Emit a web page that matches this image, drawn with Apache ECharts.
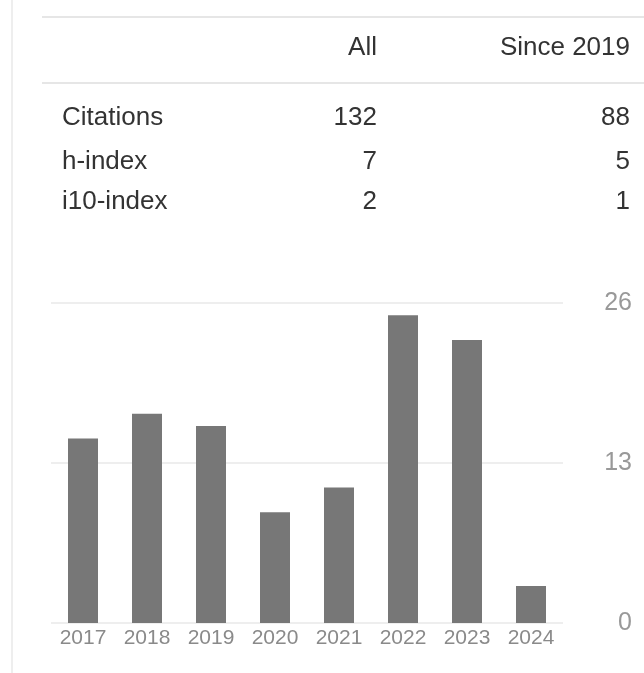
<!DOCTYPE html>
<html>
<head>
<meta charset="utf-8">
<script src="https://cdn.jsdelivr.net/npm/echarts@6/dist/echarts.min.js"></script>
<style>
  body { margin: 0; background: #fff; }
  #main { width: 644px; height: 673px; }
</style>
</head>
<body>
<div id="main"></div>
<script>
// citation stats table
const statHeaders = ['All', 'Since 2019']
const statLabels = ['Citations', 'h-index', 'i10-index']
const statAll = [132, 7, 2]
const statSince = [88, 5, 1]

// citations per year
const years = ['2017', '2018', '2019', '2020', '2021', '2022', '2023', '2024']
const citations = [15, 17, 16, 9, 11, 25, 23, 3]
const yTicks = [0, 13, 26]

const font = '"Liberation Sans", Arial, sans-serif'
const textColor = '#333'
const rowY = [118, 162, 202]
const colX = [377, 630]

const graphics = []
// left border + table rules
graphics.push({ type: 'line', shape: { x1: 12, y1: 0, x2: 12, y2: 673 }, style: { stroke: '#eeeeee', lineWidth: 2 } })
graphics.push({ type: 'line', shape: { x1: 42, y1: 17, x2: 644, y2: 17 }, style: { stroke: '#e6e6e6', lineWidth: 2 } })
graphics.push({ type: 'line', shape: { x1: 42, y1: 83, x2: 644, y2: 83 }, style: { stroke: '#e6e6e6', lineWidth: 2 } })

statHeaders.forEach((h, i) => {
  graphics.push({
    type: 'text', x: colX[i], y: 48,
    style: { text: h, font: '26px ' + font, fill: textColor, align: 'right', verticalAlign: 'middle' }
  })
})
statLabels.forEach((lab, r) => {
  graphics.push({
    type: 'text', x: 62, y: rowY[r],
    style: { text: lab, font: '26px ' + font, fill: textColor, align: 'left', verticalAlign: 'middle' }
  })
  graphics.push({
    type: 'text', x: colX[0], y: rowY[r],
    style: { text: String(statAll[r]), font: '26px ' + font, fill: textColor, align: 'right', verticalAlign: 'middle' }
  })
  graphics.push({
    type: 'text', x: colX[1], y: rowY[r],
    style: { text: String(statSince[r]), font: '26px ' + font, fill: textColor, align: 'right', verticalAlign: 'middle' }
  })
})

const myChart = echarts.init(document.getElementById('main'))

let option = {
  animation: false,
  graphic: graphics,
  grid: {
    left: 51,
    right: 81,
    top: 303,
    bottom: 50
  },
  xAxis: {
    type: 'category',
    data: years,
    axisLine: { show: false },
    axisTick: { show: false },
    axisLabel: {
      margin: 5,
      color: '#8a8a8a',
      fontSize: 21,
      fontFamily: font
    }
  },
  yAxis: {
    type: 'value',
    position: 'right',
    min: yTicks[0],
    max: yTicks[yTicks.length - 1],
    interval: yTicks[1] - yTicks[0],
    axisLine: { show: false },
    axisTick: { show: false },
    splitLine: { lineStyle: { color: '#eeeeee', width: 2 } },
    axisLabel: {
      align: 'right',
      margin: 69,
      color: '#999999',
      fontSize: 25,
      fontFamily: font
    }
  },
  series: [
    {
      type: 'bar',
      data: citations,
      barWidth: 30,
      itemStyle: { color: '#777777' }
    }
  ]
}

option && myChart.setOption(option)
</script>
</body>
</html>
